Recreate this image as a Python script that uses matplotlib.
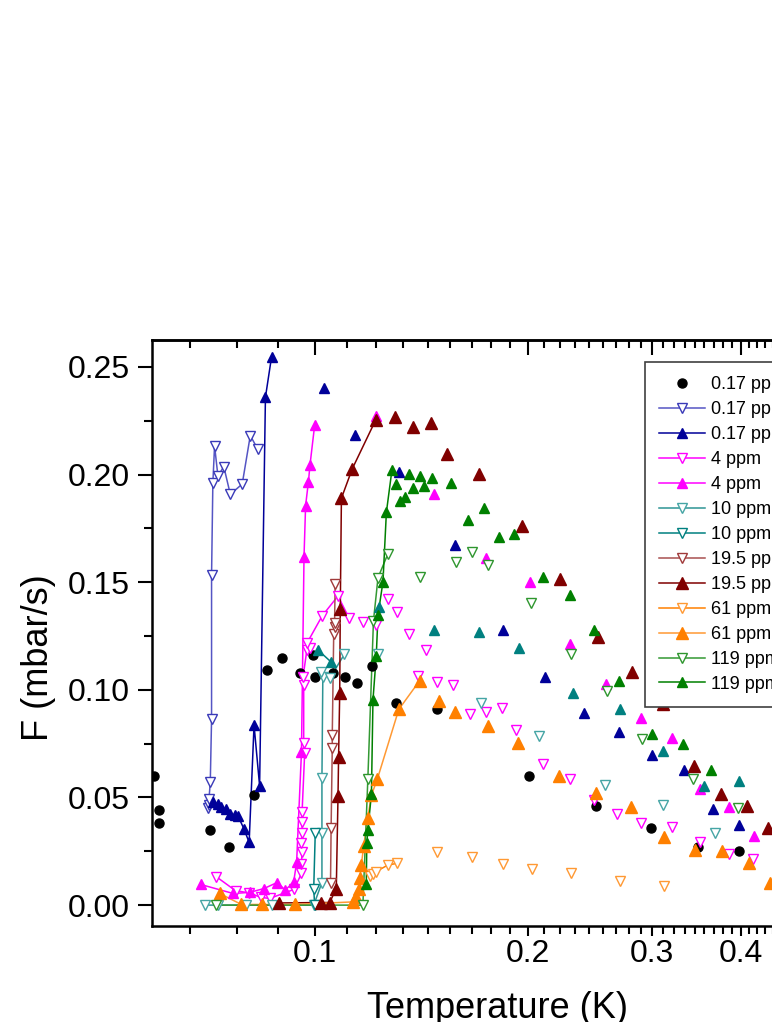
import numpy as np
import matplotlib
matplotlib.use("Agg")
import matplotlib.pyplot as plt
from matplotlib.ticker import FixedLocator, FormatStrFormatter, MultipleLocator

plt.rcParams["font.family"] = ["Liberation Sans", "DejaVu Sans"]

# ---- data: T (K), F (mbar/s); first n_line points of each run are joined by a line ----
t_017_dot = [0.0592, 0.0602, 0.0602, 0.0711, 0.0756, 0.0820, 0.0857, 0.0899, 0.0955, 0.0996, 0.1000,
             0.1061, 0.1104, 0.1149, 0.1206, 0.1303, 0.1490, 0.2006, 0.2502, 0.2989, 0.3479, 0.3984]
f_017_dot = [0.060, 0.044, 0.038, 0.035, 0.027, 0.051, 0.109, 0.115, 0.108, 0.116, 0.106,
             0.108, 0.106, 0.103, 0.111, 0.094, 0.091, 0.060, 0.046, 0.036, 0.027, 0.025]

t_017_open = [0.0707, 0.0709, 0.0709, 0.0712, 0.0715, 0.0715, 0.0718, 0.0722, 0.0730, 0.0744, 0.0760,
              0.0790, 0.0811, 0.0831]
f_017_open = [0.0449, 0.0465, 0.0493, 0.0570, 0.0863, 0.1533, 0.1960, 0.2133, 0.1993, 0.2037, 0.1908,
              0.1956, 0.2181, 0.2118]

t_017_full = [0.0719, 0.0729, 0.0737, 0.0749, 0.0758, 0.0771, 0.0779, 0.0795, 0.0808, 0.0821, 0.0836,
              0.0852, 0.0869, 0.1031, 0.1142, 0.1318, 0.1577, 0.1847, 0.2115, 0.2404, 0.2694, 0.2995,
              0.3324, 0.3661, 0.3984]
f_017_full = [0.0480, 0.0469, 0.0454, 0.0445, 0.0421, 0.0418, 0.0415, 0.0352, 0.0291, 0.0836, 0.0554,
              0.2359, 0.2545, 0.2401, 0.2184, 0.2011, 0.1671, 0.1276, 0.1061, 0.0894, 0.0805, 0.0696,
              0.0626, 0.0445, 0.0370]

t_4_open = [0.0726, 0.0773, 0.0808, 0.0839, 0.0864, 0.0935, 0.0958, 0.0958, 0.0960, 0.0958, 0.0960,
            0.0960, 0.0960, 0.0968, 0.0965, 0.0965, 0.0963, 0.0975, 0.0984, 0.0975, 0.1025, 0.1079,
            0.1118, 0.1170, 0.1222, 0.1269, 0.1308, 0.1359, 0.1399, 0.1438, 0.1489, 0.1567, 0.1657,
            0.1748, 0.1839, 0.1927, 0.2104, 0.2294, 0.2480, 0.2679, 0.2892, 0.3197, 0.3510, 0.3857,
            0.4171]
f_4_open = [0.0132, 0.0067, 0.0057, 0.0036, 0.0031, 0.0073, 0.0147, 0.0193, 0.0248, 0.0287, 0.0333,
            0.0387, 0.0434, 0.0705, 0.0751, 0.1022, 0.1060, 0.1185, 0.1193, 0.1216, 0.1344, 0.1436,
            0.1335, 0.1316, 0.1301, 0.1421, 0.1362, 0.1261, 0.1066, 0.1184, 0.1035, 0.1022, 0.0886,
            0.0898, 0.0914, 0.0813, 0.0654, 0.0584, 0.0488, 0.0421, 0.0383, 0.0364, 0.0293, 0.0236,
            0.0212]

t_4_full = [0.0690, 0.0767, 0.0809, 0.0848, 0.0885, 0.0909, 0.0934, 0.0943, 0.0958, 0.0966, 0.0971,
            0.0980, 0.0985, 0.1000, 0.1220, 0.1477, 0.1748, 0.2014, 0.2294, 0.2582, 0.2888, 0.3197,
            0.3510, 0.3857, 0.4175]
f_4_full = [0.0096, 0.0054, 0.0059, 0.0077, 0.0105, 0.0070, 0.0108, 0.0198, 0.0710, 0.1619, 0.1856,
            0.1967, 0.2045, 0.2229, 0.2274, 0.1910, 0.1611, 0.1500, 0.1214, 0.1027, 0.0870, 0.0775,
            0.0540, 0.0455, 0.0321]

t_10_a = [0.0699, 0.0730, 0.0801, 0.0869, 0.0997, 0.1024, 0.1024, 0.1024, 0.1027, 0.1022, 0.1050,
          0.1102, 0.1229, 0.1716, 0.2074, 0.2570, 0.3104, 0.3682]
f_10_a = [0.0, 0.0, 0.0, 0.0, 0.0, 0.0105, 0.0336, 0.0589, 0.1061, 0.1084, 0.1053,
          0.1166, 0.1166, 0.0937, 0.0785, 0.0558, 0.0465, 0.0333]

t_10_b = [0.1000, 0.0997, 0.1002]
f_10_b = [0.0, 0.0077, 0.0336]

t_10_full = [0.1011, 0.1056, 0.1231, 0.1477, 0.1707, 0.1943, 0.2317, 0.2699, 0.3104, 0.3555, 0.3974]
f_10_full = [0.1185, 0.1128, 0.1383, 0.1278, 0.1270, 0.1196, 0.0986, 0.0911, 0.0716, 0.0553, 0.0578]

t_195_open = [0.1053, 0.1055, 0.1059, 0.1059, 0.1064, 0.1067, 0.1067, 0.1069]
f_195_open = [0.0101, 0.0356, 0.0728, 0.0790, 0.1259, 0.1293, 0.1312, 0.1490]

t_195_full = [0.0891, 0.1022, 0.1050, 0.1073, 0.1079, 0.1081, 0.1085, 0.1087, 0.1091, 0.1130, 0.1220,
              0.1297, 0.1377, 0.1458, 0.1537, 0.1707, 0.1965, 0.2223, 0.2512, 0.2810, 0.3104, 0.3435,
              0.3753, 0.4079, 0.4368]
f_195_full = [0.0010, 0.0012, 0.0012, 0.0077, 0.0507, 0.0686, 0.0987, 0.1375, 0.1890, 0.2026, 0.2254,
              0.2266, 0.2220, 0.2238, 0.2096, 0.2001, 0.1761, 0.1515, 0.1244, 0.1084, 0.0933, 0.0646,
              0.0514, 0.0460, 0.0356]

t_61_open = [0.1196, 0.1209, 0.1220, 0.1269, 0.1307, 0.1489, 0.1669, 0.1845, 0.2028, 0.2305, 0.2699, 0.3114]
f_61_open = [0.0135, 0.0143, 0.0155, 0.0186, 0.0194, 0.0245, 0.0222, 0.0190, 0.0170, 0.0147, 0.0113, 0.0090]

t_61_full = [0.0734, 0.0788, 0.0843, 0.0939, 0.1133, 0.1145, 0.1154, 0.1158, 0.1164, 0.1173, 0.1189,
             0.1203, 0.1226, 0.1315, 0.1407, 0.1498, 0.1577, 0.1757, 0.1936, 0.2213, 0.2500, 0.2801,
             0.3114, 0.3450, 0.3765, 0.4105, 0.4407]
f_61_full = [0.0054, 0.0003, 0.0003, 0.0003, 0.0015, 0.0039, 0.0077, 0.0124, 0.0186, 0.0274, 0.0406,
             0.0511, 0.0584, 0.0909, 0.1042, 0.0949, 0.0895, 0.0832, 0.0754, 0.0601, 0.0522, 0.0454,
             0.0318, 0.0256, 0.0251, 0.0194, 0.0105]

t_119_open = [0.0725, 0.1170, 0.1189, 0.1211, 0.1229, 0.1269, 0.1407, 0.1585, 0.1669, 0.1757, 0.2023,
              0.2305, 0.2587, 0.2900, 0.3424, 0.3970]
f_119_open = [0.0, 0.0, 0.0585, 0.1321, 0.1521, 0.1631, 0.1526, 0.1595, 0.1642, 0.1580, 0.1402,
              0.1166, 0.0996, 0.0770, 0.0584, 0.0449]

t_119_full = [0.1183, 0.1185, 0.1189, 0.1203, 0.1209, 0.1222, 0.1229, 0.1249, 0.1263, 0.1286, 0.1305,
              0.1321, 0.1340, 0.1359, 0.1377, 0.1407, 0.1426, 0.1466, 0.1557, 0.1646, 0.1738, 0.1825,
              0.1916, 0.2104, 0.2294, 0.2480, 0.2691, 0.2995, 0.3313, 0.3633]
f_119_full = [0.0098, 0.0287, 0.0349, 0.0516, 0.0953, 0.1157, 0.1348, 0.1502, 0.1825, 0.2021, 0.1956,
              0.1879, 0.1897, 0.2001, 0.1936, 0.1995, 0.1947, 0.1983, 0.1959, 0.1789, 0.1846, 0.1711,
              0.1723, 0.1526, 0.1441, 0.1278, 0.1041, 0.0793, 0.0747, 0.0627]

x_major = [0.1, 0.2, 0.3, 0.4, 0.5]
x_major_labels = ["0.1", "0.2", "0.3", "0.4", "0.5"]

# ---- figure (the original is cropped on the right, so the axes run past the edge) ----
fig = plt.figure(figsize=(7.72, 10.22), dpi=100)
ax = fig.add_axes([152 / 772, 1 - 926 / 1022, (844 - 152) / 772, (926 - 340) / 1022])
ax.set_xscale("log")


def draw(t, f, n_line, color, marker, ms, filled, lc=None, label=None):
    t = np.asarray(t)
    f = np.asarray(f)
    if n_line > 1:
        ax.plot(t[:n_line], f[:n_line], "-", color=lc or color, lw=1.1, zorder=2)
    face = color if filled else "white"
    ax.plot(t, f, linestyle="none", marker=marker, ms=ms, mfc=face, mec=color, mew=1.0, zorder=3)
    return plt.Line2D([], [], color=lc or color, lw=1.1, marker=marker, ms=ms, mfc=face,
                      mec=color, mew=1.0, label=label)


handles = []
h = draw(t_017_dot, f_017_dot, 0, "black", "o", 6.5, True, label="0.17 ppm")
h.set_linestyle("none")
handles.append(h)
handles.append(draw(t_017_open, f_017_open, len(t_017_open), "#3a3ab8", "v", 7, False, lc="#5555c4", label="0.17 ppm"))
handles.append(draw(t_017_full, f_017_full, 13, "#000099", "^", 6.5, True, label="0.17 ppm"))
handles.append(draw(t_4_open, f_4_open, 23, "#ff00ff", "v", 7, False, label="4 ppm"))
handles.append(draw(t_4_full, f_4_full, 14, "#ff00ff", "^", 7, True, label="4 ppm"))
handles.append(draw(t_10_a, f_10_a, 12, "#45a5a5", "v", 7, False, lc="#2e9494", label="10 ppm"))
handles.append(draw(t_10_b, f_10_b, len(t_10_b), "#008080", "v", 7, False, label="10 ppm"))
draw(t_10_full, f_10_full, 2, "#008080", "^", 7, True)
handles.append(draw(t_195_open, f_195_open, len(t_195_open), "#a03a3a", "v", 7, False, lc="#a85050", label="19.5 ppm"))
handles.append(draw(t_195_full, f_195_full, 11, "#800000", "^", 9, True, label="19.5 ppm"))
handles.append(draw(t_61_open, f_61_open, 5, "#ff9933", "v", 7, False, lc="#ff8000", label="61 ppm"))
handles.append(draw(t_61_full, f_61_full, 15, "#ff8000", "^", 8, True, lc="#ff9933", label="61 ppm"))
handles.append(draw(t_119_open, f_119_open, 6, "#2e962e", "v", 7, False, lc="#339933", label="119 ppm"))
handles.append(draw(t_119_full, f_119_full, 10, "#008000", "^", 7, True, label="119 ppm"))

ax.set_xlim(0.0589, 0.56)
ax.set_ylim(-0.0097, 0.2625)

ax.xaxis.set_major_locator(FixedLocator(x_major))
ax.set_xticklabels(x_major_labels)
minor_x = [k / 90 for k in range(5, 51) if k % 9 != 0]
ax.xaxis.set_minor_locator(FixedLocator(minor_x))
ax.xaxis.set_minor_formatter(plt.NullFormatter())
ax.yaxis.set_major_locator(MultipleLocator(0.05))
ax.yaxis.set_minor_locator(MultipleLocator(0.025))
ax.yaxis.set_major_formatter(FormatStrFormatter("%.2f"))

ax.tick_params(which="both", direction="out", width=1.5, labelsize=23, top=False, right=False)
ax.tick_params(axis="y", which="major", length=10, pad=6)
ax.tick_params(axis="x", which="major", length=7, pad=2)
ax.tick_params(which="minor", length=6)

top = ax.secondary_xaxis("top")
top.xaxis.set_major_locator(FixedLocator(x_major))
top.xaxis.set_minor_locator(FixedLocator(minor_x))
top.tick_params(which="both", direction="in", width=1.5, labeltop=False)
top.tick_params(which="major", length=11)
top.tick_params(which="minor", length=6)
top.spines["top"].set_linewidth(1.8)

for s in ax.spines.values():
    s.set_linewidth(1.8)

ax.set_xlabel("Temperature (K)", fontsize=26)
ax.xaxis.set_label_coords(0.5, (926 - 991) / 586)
ax.set_ylabel("F (mbar/s)", fontsize=26)
ax.yaxis.set_label_coords((56 - 152) / 692, (926 - 658) / 586)

leg = ax.legend(handles=handles, loc="upper left", bbox_to_anchor=(645 / 772, 1 - 362 / 1022),
                bbox_transform=fig.transFigure, borderaxespad=0, fontsize=13, handlelength=2.5,
                handletextpad=0.35, labelspacing=0.44, borderpad=0.8, fancybox=False,
                edgecolor="#404040", framealpha=1, numpoints=1)
leg.get_frame().set_linewidth(1.2)

fig.savefig("out.png", dpi=100)
